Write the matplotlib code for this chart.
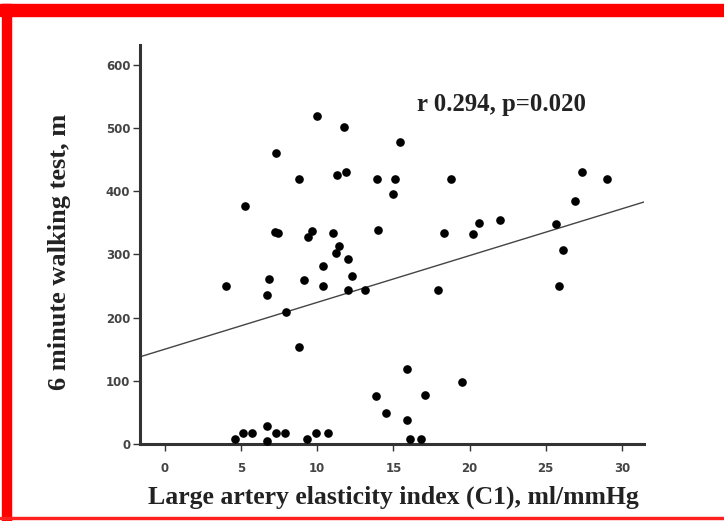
import matplotlib
matplotlib.use('Agg')
import numpy as np
from matplotlib import pyplot as plt
from matplotlib.patches import Rectangle

# C1 (ml/mmHg) against 6 minute walking distance (m)
c1 = [4.0, 4.6, 5.1, 5.25, 5.7, 6.7, 6.7, 6.7, 6.8, 7.3, 7.2, 7.45, 7.3, 7.9,
      7.95, 8.8, 8.8, 9.1, 9.3, 9.4, 9.65, 9.9, 10.0, 10.4, 10.4, 10.7, 11.0,
      11.2, 11.3, 11.4, 11.75, 11.9, 12.0, 12.0, 12.3, 13.1, 13.85, 13.9, 14.0,
      14.5, 15.0, 15.1, 15.4, 15.9, 15.9, 16.1, 16.8, 17.1, 17.9, 18.3, 18.8,
      19.5, 20.2, 20.6, 22.0, 25.7, 25.9, 26.1, 26.9, 27.4, 29.0]
walk = [250, 8, 18, 377, 18, 29, 4, 236, 261, 18, 336, 333, 460, 18,
        209, 154, 419, 259, 8, 328, 337, 18, 519, 281, 250, 18, 334,
        302, 426, 313, 502, 430, 293, 244, 266, 244, 76, 419, 339,
        49, 396, 419, 478, 119, 38, 8, 8, 78, 244, 334, 419,
        98, 332, 349, 354, 348, 250, 307, 385, 430, 419]

# regression line as drawn in the figure
fit_intercept = 150
fit_slope = 7.4

x_ticks = [0, 5, 10, 15, 20, 25, 30]
y_ticks = [0, 100, 200, 300, 400, 500, 600]
stats_text = 'r 0.294, p=0.020'

fig = plt.figure(figsize=(7.24, 5.21), dpi=100)
fig.patch.set_facecolor('white')

# red frame around the picture
fig.patches.append(Rectangle((0, 1 - 15.5/521), 1, 12/521, transform=fig.transFigure,
                             color='#ff0000', zorder=0))
fig.patches.append(Rectangle((2/724, 0), 8.5/724, 1 - 4/521, transform=fig.transFigure,
                             color='#ff0000', zorder=0))
fig.patches.append(Rectangle((0, 2/521), 1, 1.6/521, transform=fig.transFigure,
                             color='#ff2020', zorder=0))

ax = fig.add_axes([140/724, 1 - 444/521, 504/724, 399/521])
ax.scatter(c1, walk, s=27, color='black', zorder=3, clip_on=False)

xl = np.array([-1.64, 31.45])
ax.plot(xl, fit_intercept + fit_slope * xl, color='#444444', lw=1.0, zorder=2)

ax.set_xlim(-1.64, 31.45)
ax.set_ylim(0, 631)
ax.set_xticks(x_ticks)
ax.set_yticks(y_ticks)
ax.tick_params(axis='both', direction='out', length=5, width=1, color='#333333',
               labelsize=8.5, labelcolor='#444444')
ax.tick_params(axis='x', pad=8)
ax.tick_params(axis='y', pad=2)
for lab in ax.get_xticklabels() + ax.get_yticklabels():
    lab.set_fontweight('bold')

for side in ['top', 'right']:
    ax.spines[side].set_visible(False)
for side in ['left', 'bottom']:
    ax.spines[side].set_linewidth(2.2)
    ax.spines[side].set_color('#333333')

fig.text(60/724, 1 - 252/521, '6 minute walking test, m', rotation=90,
         ha='center', va='center', fontsize=19, fontweight='bold',
         family='Liberation Serif', color='#222222')
fig.text(393/724, 1 - 497/521, 'Large artery elasticity index (C1), ml/mmHg',
         ha='center', va='center', fontsize=18.5, fontweight='bold',
         family='Liberation Serif', color='#222222')
fig.text(502/724, 1 - 105/521, stats_text, ha='center', va='center',
         fontsize=17.8, fontweight='bold', family='Liberation Serif', color='#222222')

fig.savefig('out.png', dpi=100)
